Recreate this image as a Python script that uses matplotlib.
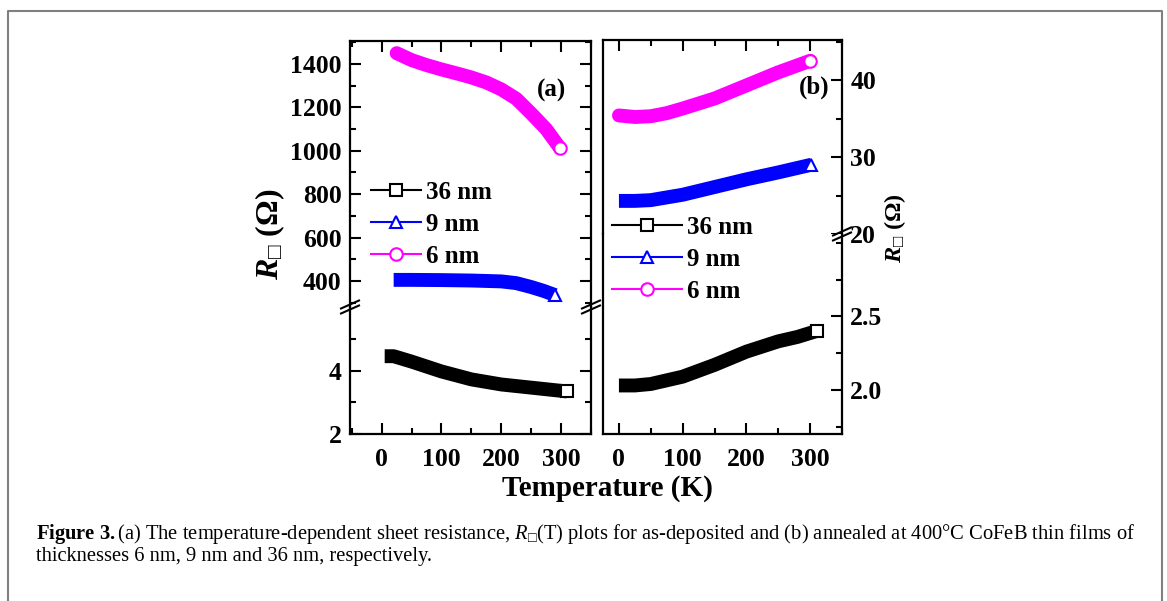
import matplotlib
matplotlib.use("Agg")
import matplotlib.pyplot as plt
from matplotlib.lines import Line2D
from matplotlib.ticker import MultipleLocator, FormatStrFormatter

# data: temperature (K) and sheet resistance
t_a6 = [25, 50, 75, 100, 125, 150, 175, 200, 225, 250, 275, 298]
r_a6 = [1450, 1418, 1395, 1375, 1357, 1338, 1315, 1283, 1240, 1172, 1100, 1013]
t_a9 = [20, 50, 100, 150, 200, 225, 250, 270, 290]
r_a9 = [405, 405, 404, 402, 398, 390, 372, 355, 335]
t_a36 = [5, 20, 50, 100, 150, 200, 250, 280, 310]
r_a36 = [4.45, 4.45, 4.28, 3.97, 3.72, 3.56, 3.46, 3.40, 3.34]

t_b6 = [0, 25, 50, 75, 100, 150, 200, 250, 300]
r_b6 = [35.4, 35.2, 35.3, 35.7, 36.3, 37.6, 39.3, 41.0, 42.5]
t_b9 = [0, 25, 50, 100, 150, 200, 250, 302]
r_b9 = [24.3, 24.3, 24.4, 25.1, 26.1, 27.1, 28.0, 29.0]
t_b36 = [0, 25, 50, 100, 150, 200, 250, 280, 310]
r_b36 = [2.03, 2.03, 2.04, 2.09, 2.17, 2.26, 2.33, 2.36, 2.40]

labels = ["36 nm", "9 nm", "6 nm"]
colors = ["black", "#0000ff", "#ff00ff"]
markers = ["s", "^", "o"]

plt.rcParams["font.family"] = ["Liberation Serif", "DejaVu Sans"]
plt.rcParams["mathtext.fontset"] = "custom"
plt.rcParams["mathtext.rm"] = "Liberation Serif"
plt.rcParams["mathtext.it"] = "Liberation Serif:italic"
plt.rcParams["mathtext.bf"] = "Liberation Serif:bold"
plt.rcParams["mathtext.bfit"] = "Liberation Serif:italic:bold"
plt.rcParams["mathtext.fallback"] = "stix"

W, H = 1167, 601
fig = plt.figure(figsize=(W / 100, H / 100), dpi=100)

TICKFS = 18.5
SQ = "\u25a1"


def box(left, right, top, bottom):
    # pixel box -> figure fraction rect
    return [left / W, 1 - bottom / H, (right - left) / W, (bottom - top) / H]


def style(ax, top_part, left=True, right=True, rlabels=False):
    for s in ax.spines.values():
        s.set_linewidth(1.6)
    if top_part:
        ax.spines["bottom"].set_visible(False)
    else:
        ax.spines["top"].set_visible(False)
    ax.tick_params(which="both", direction="in", width=1.5,
                   top=top_part, bottom=not top_part,
                   left=left, right=right,
                   labelbottom=not top_part, labeltop=False,
                   labelleft=left and not rlabels, labelright=rlabels,
                   labelsize=TICKFS)
    ax.tick_params(which="major", length=8)
    ax.tick_params(which="minor", length=4)
    ax.tick_params(axis="x", pad=10)
    ax.tick_params(axis="y", pad=6)
    ax.xaxis.set_major_locator(MultipleLocator(100))
    ax.xaxis.set_minor_locator(MultipleLocator(50))


def bold_ticks(ax):
    for lab in ax.get_xticklabels() + ax.get_yticklabels():
        lab.set_fontweight("bold")


def curve(ax, t, r, c, m, cap):
    ax.plot(t, r, color=c, lw=10, solid_capstyle=cap, solid_joinstyle="round", zorder=2)
    ax.plot(t[-1:], r[-1:], ls="none", marker=m, ms=9, mfc="white", mec=c, mew=1.5, zorder=3)


def brk(x, y, dx=9, dy=4, gap=5):
    for off in (-gap / 2, gap / 2):
        fig.add_artist(Line2D([(x - dx) / W, (x + dx) / W],
                              [1 - (y + off + dy) / H, 1 - (y + off - dy) / H],
                              color="black", lw=1.5, transform=fig.transFigure))


# panel (a)
a_up = fig.add_axes(box(350, 591, 41, 307))
a_lo = fig.add_axes(box(350, 591, 307, 434))
for ax in (a_up, a_lo):
    ax.set_xlim(-53, 350)
a_up.set_ylim(280, 1506)
a_lo.set_ylim(2, 6)
a_up.yaxis.set_major_locator(MultipleLocator(200))
a_up.yaxis.set_minor_locator(MultipleLocator(100))
a_lo.set_yticks([2, 4])
a_lo.set_yticks([3, 5], minor=True)
curve(a_up, t_a6, r_a6, colors[2], markers[2], "round")
curve(a_up, t_a9, r_a9, colors[1], markers[1], "butt")
curve(a_lo, t_a36, r_a36, colors[0], markers[0], "butt")
style(a_up, True)
style(a_lo, False)

# panel (b)
b_up = fig.add_axes(box(603, 842, 40, 234))
b_lo = fig.add_axes(box(603, 842, 234, 434))
for ax in (b_up, b_lo):
    ax.set_xlim(-25, 350)
b_up.set_ylim(20, 45.2)
b_lo.set_ylim(1.70, 3.06)
b_up.yaxis.set_major_locator(MultipleLocator(10))
b_up.yaxis.set_minor_locator(MultipleLocator(5))
b_lo.set_yticks([2.0, 2.5])
b_lo.yaxis.set_minor_locator(MultipleLocator(0.25))
curve(b_up, t_b6, r_b6, colors[2], markers[2], "round")
curve(b_up, t_b9, r_b9, colors[1], markers[1], "butt")
curve(b_lo, t_b36, r_b36, colors[0], markers[0], "butt")
style(b_up, True, left=False, right=True, rlabels=True)
style(b_lo, False, left=False, right=True, rlabels=True)
b_up.yaxis.set_major_formatter(FormatStrFormatter("%d"))
b_lo.yaxis.set_major_formatter(FormatStrFormatter("%.1f"))

for ax in (a_up, a_lo, b_up, b_lo):
    bold_ticks(ax)

# axis breaks
brk(350, 307)
brk(591, 307)
brk(842, 234)

# legends
handles = [Line2D([], [], color=c, lw=1.5, marker=m, ms=9, mfc="white", mec=c, mew=1.5)
           for c, m in zip(colors, markers)]
fig.legend(handles, labels, loc="upper left", bbox_to_anchor=(371 / W, 1 - 181 / H),
           frameon=False, handlelength=2.0, handletextpad=0.2, labelspacing=0.36,
           borderpad=0, borderaxespad=0, prop={"weight": "bold", "size": 18})
fig.legend(handles, labels, loc="upper left", bbox_to_anchor=(612 / W, 1 - 216 / H),
           frameon=False, handlelength=2.8, handletextpad=0.2, labelspacing=0.36,
           borderpad=0, borderaxespad=0, prop={"weight": "bold", "size": 18})

# labels
fig.text(552 / W, 1 - 90 / H, "(a)", fontsize=18, fontweight="bold", ha="center", va="center")
fig.text(814 / W, 1 - 87 / H, "(b)", fontsize=18, fontweight="bold", ha="center", va="center")
fig.text(607 / W, 1 - 488 / H, "Temperature (K)", fontsize=21, fontweight="bold",
         ha="center", va="center")
fig.text(270 / W, 1 - 234 / H, r"$\mathbfit{R}_{" + SQ + "}$ (Ω)", fontsize=23, fontweight="bold",
         rotation=90, ha="center", va="center")
fig.text(895 / W, 1 - 228 / H, r"$\mathbfit{R}_{" + SQ + "}$ (Ω)", fontsize=17.5, fontweight="bold",
         rotation=90, ha="center", va="center")

# caption
fig.text(36 / W, 1 - 534 / H,
         r"$\mathbf{Figure\ 3.}$(a) The temperature-dependent sheet resistance, $R_{" + SQ + "}$(T) plots "
         "for as-deposited and (b) annealed at 400°C CoFeB thin films of",
         fontsize=14.8, ha="left", va="center")
fig.text(36 / W, 1 - 557 / H, "thicknesses 6 nm, 9 nm and 36 nm, respectively.",
         fontsize=14.8, ha="left", va="center")

# outer frame (left, top, right)
fig.add_artist(Line2D([8 / W, 8 / W, 1162 / W, 1162 / W], [0, 1 - 11 / H, 1 - 11 / H, 0],
                      color="#808080", lw=1.5, transform=fig.transFigure))

fig.savefig("out.png", dpi=100)
